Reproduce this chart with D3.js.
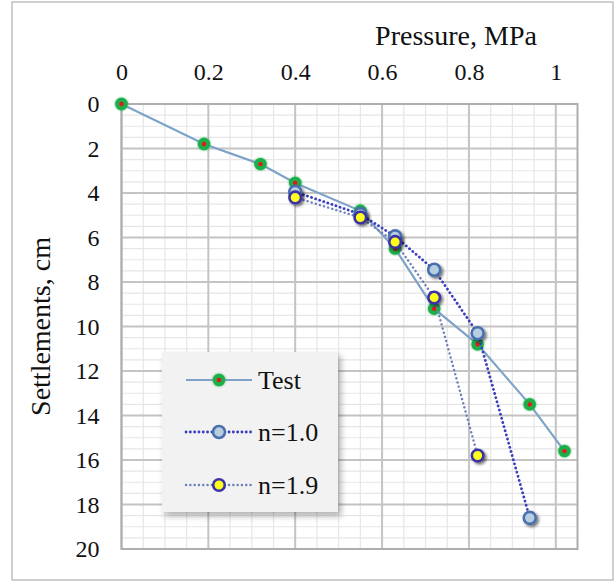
<!DOCTYPE html>
<html>
<head>
<meta charset="utf-8">
<script src="https://cdn.jsdelivr.net/npm/d3@7"></script>
<style>
  body { margin: 0; background: #fff; }
</style>
</head>
<body>
<svg id="chart" width="616" height="585"></svg>
<script>
// Data
const pressureTest = [0, 0.19, 0.32, 0.40, 0.55, 0.63, 0.72, 0.82, 0.94, 1.02];
const settleTest = [0, 1.8, 2.7, 3.55, 4.8, 6.5, 9.2, 10.8, 13.5, 15.6];

const pressureN10 = [0.40, 0.55, 0.63, 0.72, 0.82, 0.94];
const settleN10 = [3.95, 4.95, 5.95, 7.45, 10.3, 18.6];

const pressureN19 = [0.40, 0.55, 0.63, 0.72, 0.82];
const settleN19 = [4.2, 5.1, 6.2, 8.7, 15.8];

const xTicks = [0, 0.2, 0.4, 0.6, 0.8, 1];
const yTicks = [0, 2, 4, 6, 8, 10, 12, 14, 16, 18, 20];
const seriesNames = ["Test", "n=1.0", "n=1.9"];

const FONT = "Liberation Serif, Tinos, Times New Roman, DejaVu Serif, serif";

const svg = d3.select("#chart");

// filters
const defs = svg.append("defs");
const sh = defs.append("filter").attr("id", "shadow")
  .attr("x", "-50%").attr("y", "-50%").attr("width", "200%").attr("height", "200%");
sh.append("feDropShadow").attr("dx", 2).attr("dy", 2).attr("stdDeviation", 1.6)
  .attr("flood-color", "#000").attr("flood-opacity", 0.55);
const glow = defs.append("filter").attr("id", "glow")
  .attr("x", "-60%").attr("y", "-60%").attr("width", "220%").attr("height", "220%");
glow.append("feGaussianBlur").attr("in", "SourceGraphic").attr("stdDeviation", 1.2).attr("result", "b");
const gm = glow.append("feMerge");
gm.append("feMergeNode").attr("in", "b");
gm.append("feMergeNode").attr("in", "SourceGraphic");
const boxSh = defs.append("filter").attr("id", "boxshadow")
  .attr("x", "-10%").attr("y", "-10%").attr("width", "130%").attr("height", "130%");
boxSh.append("feDropShadow").attr("dx", 3).attr("dy", 4).attr("stdDeviation", 3)
  .attr("flood-color", "#000").attr("flood-opacity", 0.3);

// outer frame
svg.append("rect")
  .attr("x", 12).attr("y", 2).attr("width", 601).attr("height", 578)
  .attr("fill", "#fff").attr("stroke", "#c0c0c0").attr("stroke-width", 1.5);

const pLeft = 121.5, pRight = 577.5, pTop = 104, pBottom = 549;
const x = d3.scaleLinear().domain([0, 1.05]).range([pLeft, pRight]);
const y = d3.scaleLinear().domain([0, 20]).range([pTop, pBottom]);

// minor grid
const g = svg.append("g");
g.append("g").selectAll("line")
  .data(d3.range(0, 1.0501, 0.05))
  .join("line")
  .attr("x1", d => x(d)).attr("x2", d => x(d))
  .attr("y1", pTop).attr("y2", pBottom)
  .attr("stroke", "#e6e6e6").attr("stroke-width", 1.2);
g.append("g").selectAll("line")
  .data(d3.range(0, 20.01, 0.5))
  .join("line")
  .attr("y1", d => y(d)).attr("y2", d => y(d))
  .attr("x1", pLeft).attr("x2", pRight)
  .attr("stroke", "#e6e6e6").attr("stroke-width", 1.2);

// major grid
g.append("g").selectAll("line")
  .data(xTicks)
  .join("line")
  .attr("x1", d => x(d)).attr("x2", d => x(d))
  .attr("y1", pTop).attr("y2", pBottom)
  .attr("stroke", "#c4c4c4").attr("stroke-width", 2);
g.append("g").selectAll("line")
  .data(yTicks)
  .join("line")
  .attr("y1", d => y(d)).attr("y2", d => y(d))
  .attr("x1", pLeft).attr("x2", pRight)
  .attr("stroke", "#c4c4c4").attr("stroke-width", 2);

// plot border
svg.append("rect")
  .attr("x", pLeft).attr("y", pTop).attr("width", pRight - pLeft).attr("height", pBottom - pTop)
  .attr("fill", "none").attr("stroke", "#aeaeae").attr("stroke-width", 2);

// axes (top x, left y) using d3 axes
const xAxis = svg.append("g")
  .attr("transform", `translate(0,${pTop})`)
  .call(d3.axisTop(x).tickValues(xTicks).tickFormat(d3.format("~g")).tickSize(0).tickPadding(24));
const yAxis = svg.append("g")
  .attr("transform", `translate(${pLeft},0)`)
  .call(d3.axisLeft(y).tickValues(yTicks).tickSize(0).tickPadding(22));
[xAxis, yAxis].forEach(a => {
  a.attr("font-family", FONT).attr("font-size", 24);
  a.select(".domain").remove();
  a.selectAll("text").attr("fill", "#111");
});

// axis titles
svg.append("text")
  .attr("x", 456).attr("y", 45)
  .attr("text-anchor", "middle")
  .attr("font-family", FONT).attr("font-size", 28).attr("fill", "#111")
  .text("Pressure, MPa");
svg.append("text")
  .attr("transform", `translate(50,${(pTop + pBottom) / 2}) rotate(-90)`)
  .attr("text-anchor", "middle")
  .attr("font-family", FONT).attr("font-size", 28).attr("fill", "#111")
  .text("Settlements, cm");

// series
const testData = pressureTest.map((p, i) => ({ p, s: settleTest[i] }));
const n10Data = pressureN10.map((p, i) => ({ p, s: settleN10[i] }));
const n19Data = pressureN19.map((p, i) => ({ p, s: settleN19[i] }));

const line = d3.line().x(d => x(d.p)).y(d => y(d.s));

const styles = [
  { data: testData, stroke: "#7fa3c8", width: 2.2, dash: null,
    fill: "#e8141c", mStroke: "#1fae4a", mWidth: 4, r: 4.2 },
  { data: n10Data, stroke: "#3a3fc0", width: 2.8, dash: "0.1 4.2",
    fill: "#b9cde0", mStroke: "#4a6fae", mWidth: 2.6, r: 6 },
  { data: n19Data, stroke: "#6d7fb8", width: 2.4, dash: "0.1 4.2",
    fill: "#ffff1a", mStroke: "#3b32a6", mWidth: 2.6, r: 5.8 }
];

styles.forEach((st, i) => {
  const sg = svg.append("g");
  sg.append("path")
    .datum(st.data)
    .attr("d", line)
    .attr("fill", "none")
    .attr("stroke", st.stroke)
    .attr("stroke-width", st.width)
    .attr("stroke-linecap", st.dash ? "round" : "butt")
    .attr("stroke-dasharray", st.dash);
  sg.selectAll("circle")
    .data(st.data)
    .join("circle")
    .attr("cx", d => x(d.p)).attr("cy", d => y(d.s))
    .attr("r", st.r)
    .attr("fill", st.fill)
    .attr("stroke", st.mStroke)
    .attr("stroke-width", st.mWidth)
    .attr("filter", i === 0 ? "url(#glow)" : "url(#shadow)");
});

// legend
const lg = svg.append("g");
lg.append("rect")
  .attr("x", 162).attr("y", 352).attr("width", 176).attr("height", 160)
  .attr("fill", "#f2f2f2").attr("filter", "url(#boxshadow)");
const legendY = [380, 432, 485];
styles.forEach((st, i) => {
  const ly = legendY[i];
  lg.append("line")
    .attr("x1", 186).attr("x2", 252).attr("y1", ly).attr("y2", ly)
    .attr("stroke", st.stroke).attr("stroke-width", st.width)
    .attr("stroke-linecap", st.dash ? "round" : "butt")
    .attr("stroke-dasharray", st.dash);
  lg.append("circle")
    .attr("cx", 219).attr("cy", ly).attr("r", st.r)
    .attr("fill", st.fill).attr("stroke", st.mStroke).attr("stroke-width", st.mWidth)
    .attr("filter", i === 0 ? "url(#glow)" : null);
  lg.append("text")
    .attr("x", 258).attr("y", ly + 9)
    .attr("font-family", FONT).attr("font-size", 26).attr("fill", "#111")
    .text(seriesNames[i]);
});
</script>
</body>
</html>
